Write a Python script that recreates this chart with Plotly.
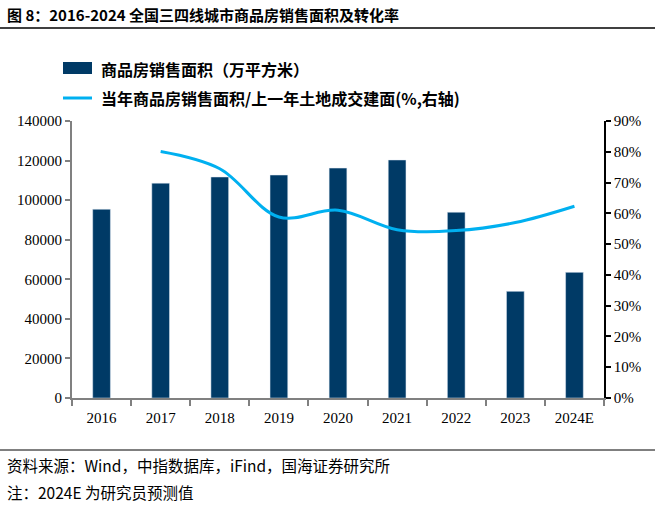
import plotly.graph_objects as go

years = ["2016", "2017", "2018", "2019", "2020", "2021", "2022", "2023", "2024E"]
sales_area = [95400, 108600, 111700, 112700, 116200, 120300, 93900, 53900, 63500]
ratio_years = ["2017", "2018", "2019", "2020", "2021", "2022", "2023", "2024E"]
ratio_pct = [80.1, 74.5, 58.8, 61.0, 54.7, 54.4, 57.0, 62.3]

left_ticks = [0, 20000, 40000, 60000, 80000, 100000, 120000, 140000]
right_ticks = [0, 10, 20, 30, 40, 50, 60, 70, 80, 90]

bar_name = "商品房销售面积（万平方米）"
line_name = "当年商品房销售面积/上一年土地成交建面(%,右轴)"
title_text = "图 8：2016-2024 全国三四线城市商品房销售面积及转化率"
source_text = "资料来源：Wind，中指数据库，iFind，国海证券研究所"
note_text = "注：2024E 为研究员预测值"

BAR_COLOR = "#003A66"
LINE_COLOR = "#00B0F0"
CJK = "Noto Sans CJK SC"
SERIF = "Liberation Serif"

PW = 532.0  # plot width px
PH = 277.0  # plot height px
L, T = 72, 121


def px(x):
    return (x - L) / PW


def py(y):
    return 1 - (y - T) / PH


fig = go.Figure()
fig.add_trace(go.Bar(x=years, y=sales_area, name=bar_name, marker_color=BAR_COLOR,
                     yaxis="y"))
fig.add_trace(go.Scatter(x=ratio_years, y=ratio_pct, name=line_name, mode="lines",
                         line=dict(color=LINE_COLOR, width=3, shape="spline", smoothing=1.0),
                         yaxis="y2"))

fig.update_layout(
    width=655, height=505,
    margin=dict(l=72, r=51, t=121, b=107),
    paper_bgcolor="white", plot_bgcolor="white",
    showlegend=False,
    bargap=0.7,
    xaxis=dict(type="category", categoryorder="array", categoryarray=years,
               showline=True, linecolor="#808080", linewidth=2,
               ticks="outside", tickcolor="#808080", ticklen=6, tickwidth=2,
               tickson="boundaries", showgrid=False, ticklabelstandoff=5,
               tickfont=dict(family=SERIF, size=15, color="black")),
    yaxis=dict(range=[0, 140000], tickvals=left_ticks, ticktext=[str(v) for v in left_ticks],
               showline=True, linecolor="#808080", linewidth=2,
               ticks="outside", tickcolor="#808080", ticklen=5, tickwidth=2,
               showgrid=False, zeroline=False,
               tickfont=dict(family=SERIF, size=15, color="black")),
    yaxis2=dict(range=[0, 90], overlaying="y", side="right", tickvals=right_ticks,
                ticktext=[f"{v}%" for v in right_ticks],
                showline=True, linecolor="black", linewidth=1.5,
                ticks="outside", tickcolor="black", ticklen=5, tickwidth=1.5,
                showgrid=False, zeroline=False,
                tickfont=dict(family=SERIF, size=15, color="black")),
)

# title and separator lines
fig.add_annotation(xref="paper", yref="paper", x=px(5), y=py(14),
                   xanchor="left", yanchor="middle", showarrow=False,
                   text="<b>" + title_text + "</b>",
                   font=dict(family=CJK, size=15, color="black"))
fig.add_shape(type="line", xref="paper", yref="paper",
              x0=px(0), x1=px(655), y0=py(28), y1=py(28),
              line=dict(color="black", width=1.5))
fig.add_shape(type="line", xref="paper", yref="paper",
              x0=px(0), x1=px(655), y0=py(450), y1=py(450),
              line=dict(color="black", width=1))

# legend
fig.add_shape(type="rect", xref="paper", yref="paper",
              x0=px(63), x1=px(92), y0=py(74), y1=py(62),
              fillcolor=BAR_COLOR, line=dict(width=0))
fig.add_annotation(xref="paper", yref="paper", x=px(99), y=py(69),
                   xanchor="left", yanchor="middle", showarrow=False,
                   text="<b>" + bar_name + "</b>",
                   font=dict(family=CJK, size=16, color="black"))
fig.add_shape(type="line", xref="paper", yref="paper",
              x0=px(63), x1=px(92), y0=py(98), y1=py(98),
              line=dict(color=LINE_COLOR, width=3))
fig.add_annotation(xref="paper", yref="paper", x=px(99), y=py(98),
                   xanchor="left", yanchor="middle", showarrow=False,
                   text="<b>" + line_name + "</b>",
                   font=dict(family=CJK, size=16, color="black"))

# footer
fig.add_annotation(xref="paper", yref="paper", x=px(5), y=py(465),
                   xanchor="left", yanchor="middle", showarrow=False,
                   text=source_text, font=dict(family=CJK, size=15.5, color="black"))
fig.add_annotation(xref="paper", yref="paper", x=px(5), y=py(492),
                   xanchor="left", yanchor="middle", showarrow=False,
                   text=note_text, font=dict(family=CJK, size=15.5, color="black"))

fig.write_html("out.html", config={"displayModeBar": False},
               post_script="document.body.style.margin='0';document.body.style.overflow='hidden';")
